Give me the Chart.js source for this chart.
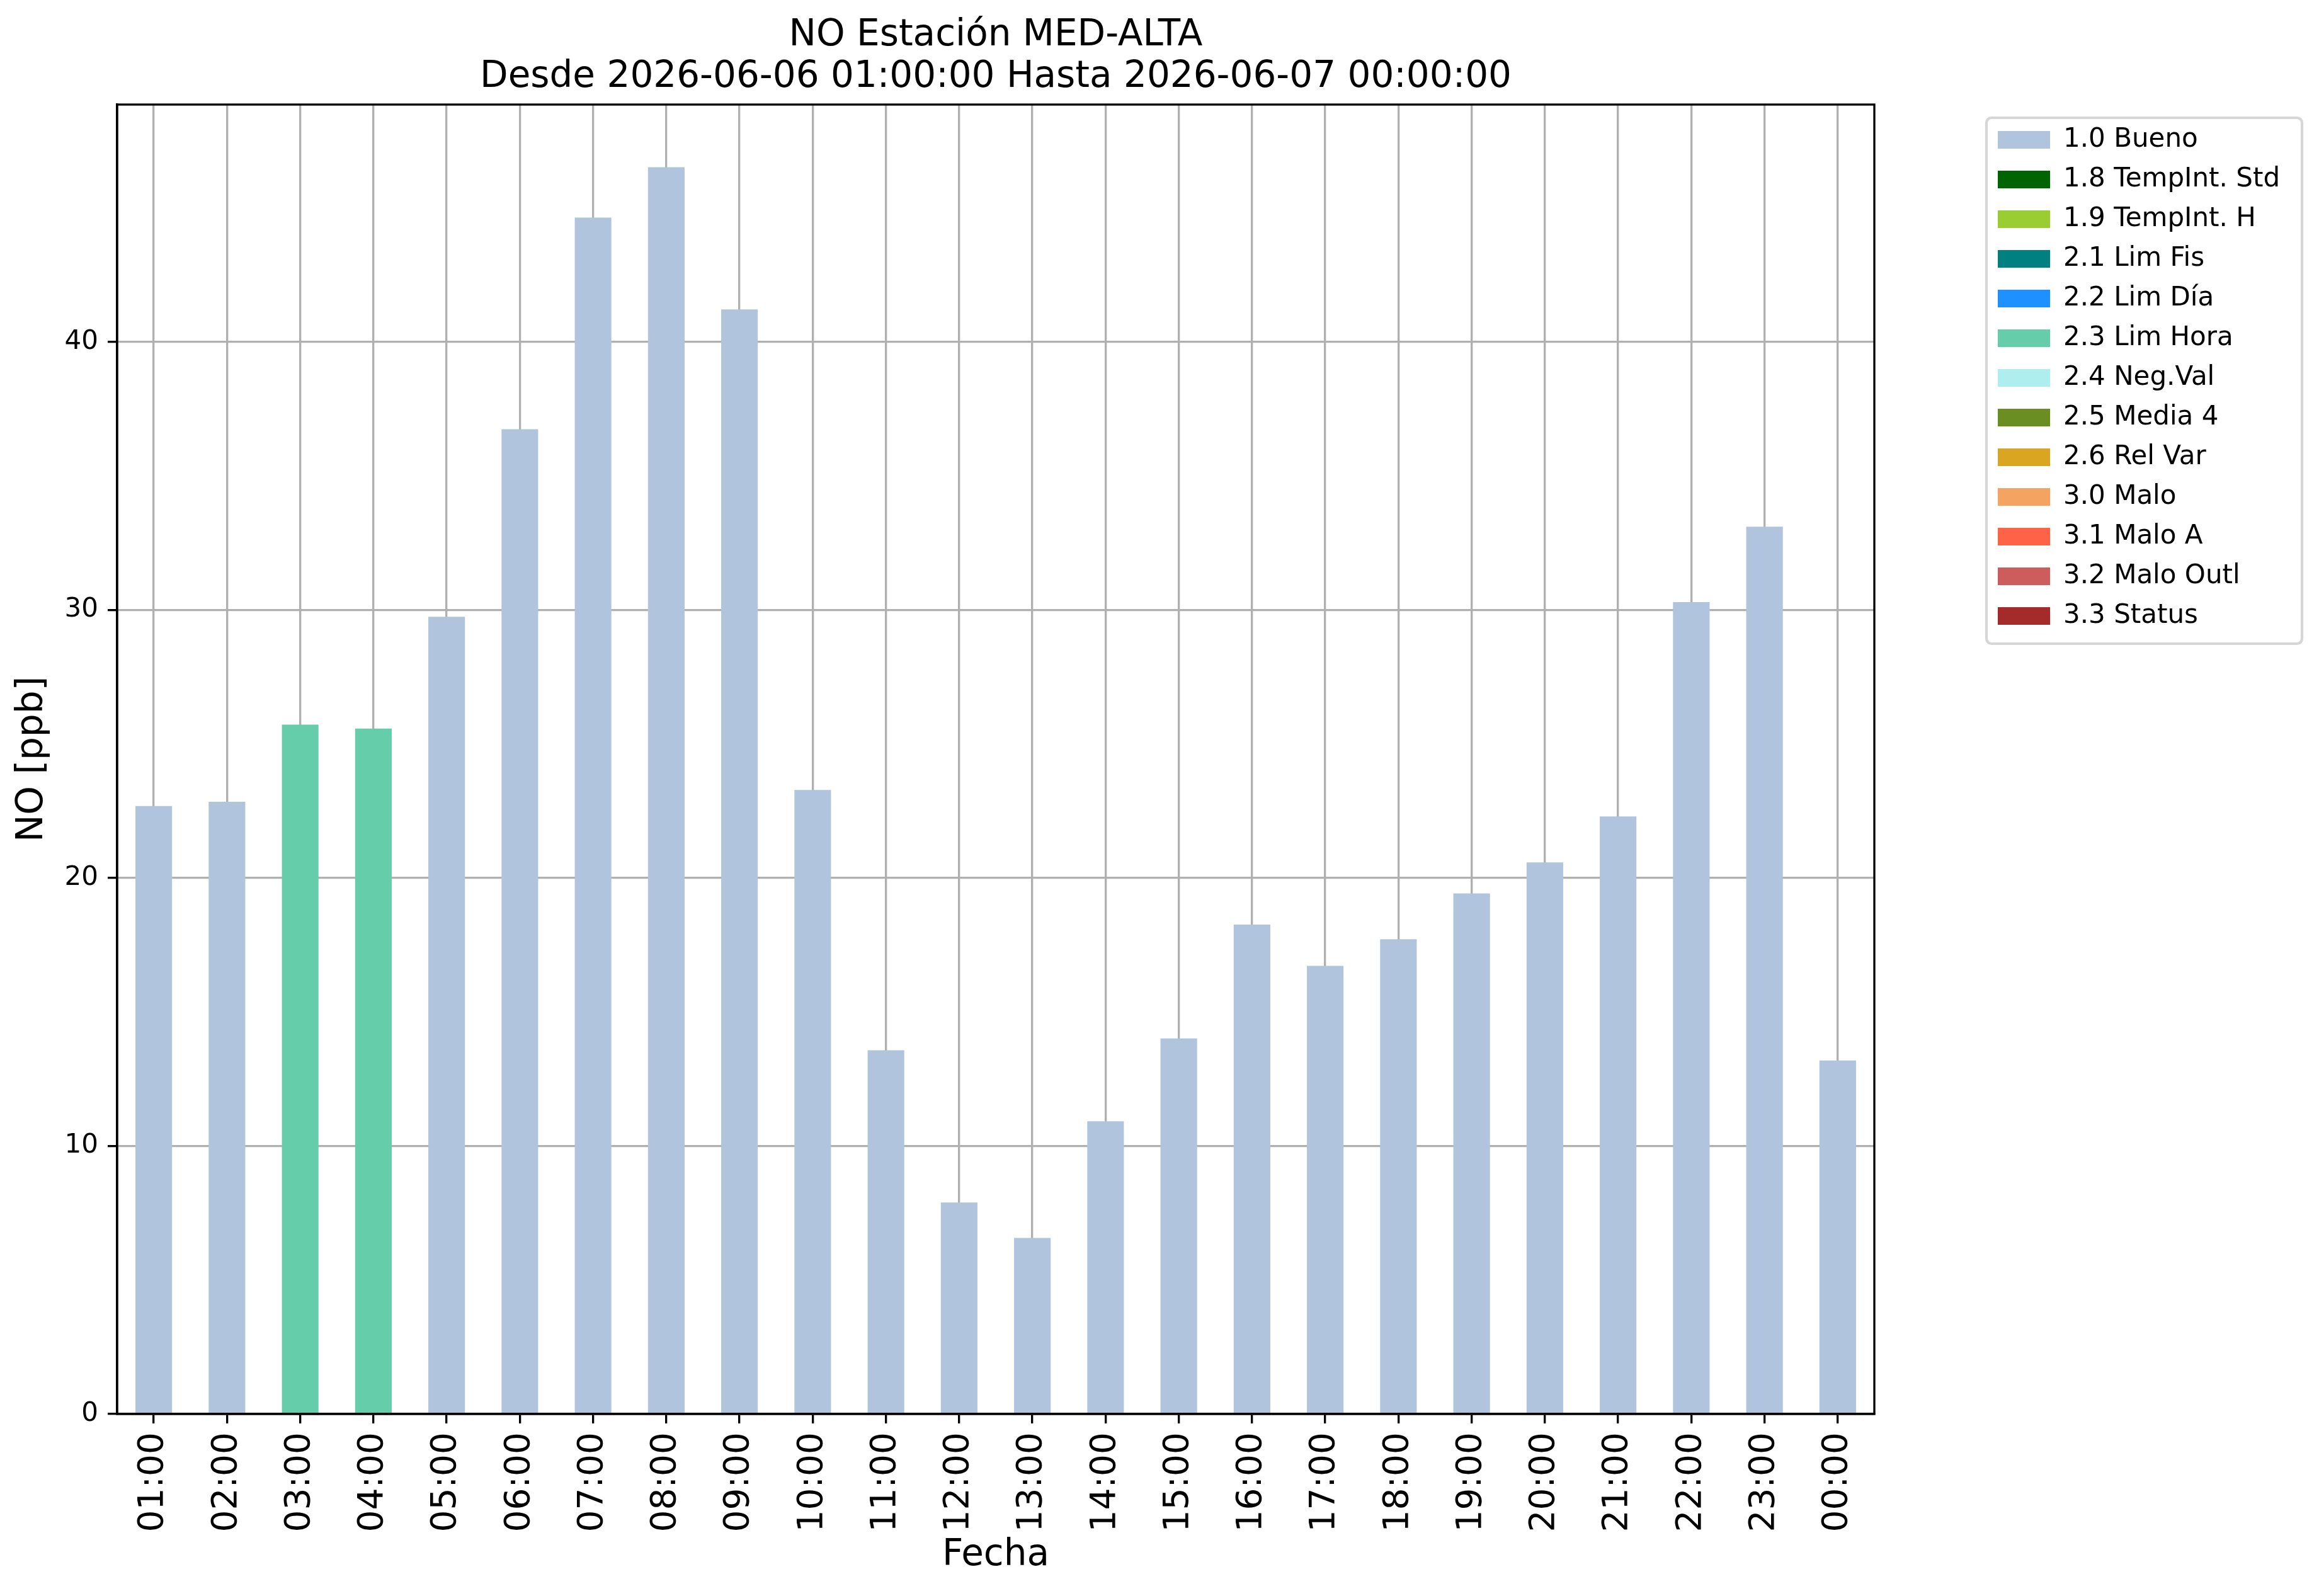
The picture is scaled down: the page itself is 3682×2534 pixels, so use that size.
<!DOCTYPE html>
<html>
<head>
<meta charset="utf-8">
<script src="https://cdn.jsdelivr.net/npm/chart.js@4.4.0/dist/chart.umd.min.js"></script>
<style>
  html, body { margin: 0; padding: 0; background: #fff; }
  canvas { display: block; }
</style>
</head>
<body>
<canvas id="no-chart" width="3682" height="2534"></canvas>
<script>
// data
const hours = ['01:00', '02:00', '03:00', '04:00', '05:00', '06:00', '07:00', '08:00',
  '09:00', '10:00', '11:00', '12:00', '13:00', '14:00', '15:00', '16:00',
  '17:00', '18:00', '19:00', '20:00', '21:00', '22:00', '23:00', '00:00'];
const noValues = [22.68, 22.84, 25.72, 25.57, 29.74, 36.74, 44.63, 46.51,
  41.21, 23.28, 13.57, 7.89, 6.57, 10.92, 14.01, 18.26,
  16.72, 17.71, 19.42, 20.58, 22.29, 30.29, 33.10, 13.19];
const hourFlags = ['1.0 Bueno', '1.0 Bueno', '2.3 Lim Hora', '2.3 Lim Hora', '1.0 Bueno', '1.0 Bueno', '1.0 Bueno', '1.0 Bueno',
  '1.0 Bueno', '1.0 Bueno', '1.0 Bueno', '1.0 Bueno', '1.0 Bueno', '1.0 Bueno', '1.0 Bueno', '1.0 Bueno',
  '1.0 Bueno', '1.0 Bueno', '1.0 Bueno', '1.0 Bueno', '1.0 Bueno', '1.0 Bueno', '1.0 Bueno', '1.0 Bueno'];
const flagLabels = ['1.0 Bueno', '1.8 TempInt. Std', '1.9 TempInt. H', '2.1 Lim Fis', '2.2 Lim Día',
  '2.3 Lim Hora', '2.4 Neg.Val', '2.5 Media 4', '2.6 Rel Var', '3.0 Malo', '3.1 Malo A',
  '3.2 Malo Outl', '3.3 Status'];
const flagColors = ['#b0c4de', '#006400', '#9acd32', '#008080', '#1e90ff',
  '#66cdaa', '#afeeee', '#6b8e23', '#daa520', '#f4a460', '#ff6347',
  '#cd5c5c', '#a52a2a'];
const yTicks = [0, 10, 20, 30, 40];
const yMax = 48.85;

const FONT = 'DejaVu Sans';
const LW = 3.33;
Chart.defaults.font.family = FONT;
Chart.defaults.color = '#000';

// one stacked dataset per quality flag
const datasets = flagLabels.map((label, i) => ({
  label: label,
  data: noValues.map((v, j) => hourFlags[j] === label ? v : null),
  backgroundColor: flagColors[i],
  borderWidth: 0,
  barPercentage: 0.5,
  categoryPercentage: 1.0
}));

const boxPlugin = {
  id: 'boxPlugin',
  afterLayout(chart) {
    // move the legend next to the axes, matplotlib style
    const lg = chart.legend;
    lg.left = 3151;
    lg.top = 180;
    lg.right = chart.width;
    lg.bottom = chart.height;
    lg.width = lg.right - lg.left;
    lg.height = lg.bottom - lg.top;
  },
  afterDraw(chart) {
    const ctx = chart.ctx;
    const a = chart.chartArea;
    ctx.save();
    ctx.strokeStyle = '#000';
    ctx.lineWidth = LW;
    ctx.strokeRect(a.left, a.top, a.right - a.left, a.bottom - a.top);
    // legend frame
    ctx.strokeStyle = '#d6d6d6';
    ctx.lineWidth = 4.2;
    ctx.beginPath();
    ctx.roundRect(3154, 187, 3655 - 3154, 1022 - 187, 8);
    ctx.stroke();
    ctx.restore();
  }
};

new Chart(document.getElementById('no-chart'), {
  type: 'bar',
  data: {
    labels: hours,
    datasets: datasets
  },
  options: {
    responsive: false,
    animation: false,
    devicePixelRatio: 1,
    layout: {
      padding: { left: 0, right: 406, top: 0, bottom: 0 }
    },
    scales: {
      x: {
        stacked: true,
        offset: true,
        z: 1,
        afterFit: (s) => { s.height = 289; },
        grid: {
          offset: false,
          color: '#b0b0b0',
          lineWidth: LW,
          tickLength: 15,
          tickColor: '#000',
          tickWidth: LW
        },
        border: { color: '#000', width: LW },
        ticks: {
          autoSkip: false,
          minRotation: 90,
          maxRotation: 90,
          padding: 14,
          font: { size: 55 }
        },
        title: {
          display: true,
          text: 'Fecha',
          font: { size: 58 },
          padding: { top: 0, bottom: 29 }
        }
      },
      y: {
        stacked: true,
        min: 0,
        max: yMax,
        z: 1,
        afterFit: (s) => { s.width = 186; },
        afterBuildTicks: (s) => { s.ticks = yTicks.map(v => ({ value: v })); },
        grid: {
          color: '#b0b0b0',
          lineWidth: LW,
          tickLength: 15,
          tickColor: '#000',
          tickWidth: LW
        },
        border: { color: '#000', width: LW },
        ticks: {
          padding: 15,
          font: { size: 42 }
        },
        title: {
          display: true,
          text: 'NO [ppb]',
          font: { size: 58 },
          padding: { top: 17, bottom: 0 }
        }
      }
    },
    plugins: {
      title: {
        display: true,
        fullSize: false,
        text: ['NO Estación MED-ALTA', 'Desde 2026-06-06 01:00:00 Hasta 2026-06-07 00:00:00'],
        color: '#000',
        font: { size: 58, weight: 'normal', lineHeight: 66 / 58 },
        padding: { top: 24, bottom: 10 }
      },
      legend: {
        position: 'right',
        align: 'start',
        maxWidth: 300,
        labels: {
          boxWidth: 83,
          boxHeight: 28,
          padding: 21,
          color: '#000',
          font: { size: 42 }
        }
      },
      tooltip: { enabled: false }
    }
  },
  plugins: [boxPlugin]
});
</script>
</body>
</html>
